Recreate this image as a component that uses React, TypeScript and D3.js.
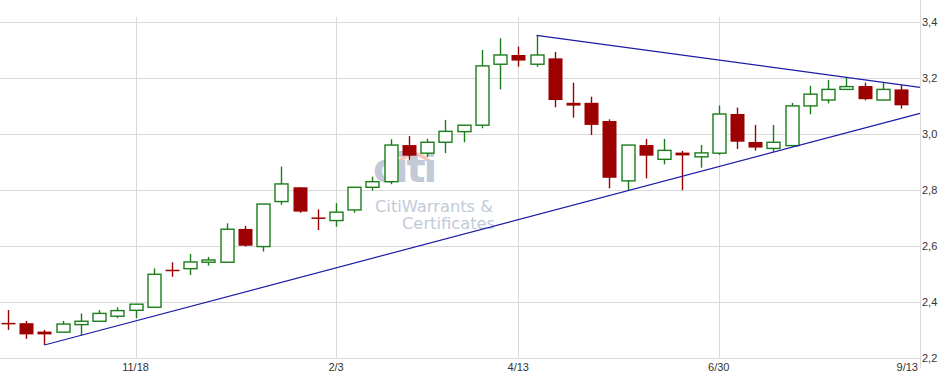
import React from "react";
import * as d3 from "d3";

const opens = [2.322,2.323,2.293,2.291,2.318,2.330,2.348,2.369,2.380,2.512,2.518,2.541,2.541,2.660,2.597,2.758,2.809,2.699,2.690,2.728,2.809,2.829,2.960,2.931,2.970,3.008,3.031,3.249,3.282,3.249,3.270,3.111,3.111,3.046,2.832,2.960,2.909,2.933,2.918,2.931,3.071,2.971,2.948,2.958,3.100,3.121,3.159,3.171,3.121,3.159];
const highs = [2.370,2.331,2.299,2.331,2.358,2.370,2.380,2.392,2.519,2.541,2.571,2.560,2.680,2.671,2.750,2.883,2.809,2.730,2.752,2.810,2.847,2.981,2.992,2.982,3.050,3.032,3.300,3.342,3.312,3.352,3.293,3.183,3.133,3.052,2.960,2.982,2.982,2.939,2.960,3.101,3.094,3.032,3.032,3.111,3.172,3.193,3.202,3.183,3.185,3.175];
const lows = [2.299,2.267,2.245,2.290,2.280,2.330,2.341,2.341,2.380,2.489,2.495,2.529,2.541,2.597,2.579,2.746,2.718,2.656,2.668,2.718,2.797,2.820,2.907,2.918,2.931,2.970,3.020,3.159,3.240,3.240,3.095,3.058,2.996,2.805,2.796,2.841,2.891,2.799,2.879,2.925,2.946,2.940,2.936,2.955,3.070,3.109,3.159,3.120,3.121,3.090];
const closes = [2.321,2.283,2.283,2.320,2.330,2.358,2.368,2.391,2.498,2.511,2.542,2.549,2.659,2.600,2.749,2.821,2.722,2.698,2.720,2.809,2.829,2.960,2.922,2.970,3.009,3.031,3.243,3.282,3.262,3.282,3.121,3.101,3.032,2.843,2.960,2.922,2.941,2.923,2.932,3.071,2.972,2.951,2.970,3.100,3.142,3.159,3.169,3.124,3.159,3.102];

const yTicks = [2.2, 2.4, 2.6, 2.8, 3.0, 3.2, 3.4];
const xTickIdx = [7, 18, 28, 39];
const xTickLabels = ["11/18", "2/3", "4/13", "6/30"];
const lastLabel = "9/13";

// trend line anchors: [candle index, value]
const lowerTrend: [number, number][] = [[2, 2.245], [43, 2.952]];
const upperTrend: [number, number][] = [[29, 3.352], [46, 3.202]];

const W = 942, H = 378;
const plotRight = 920;
const RED = "#9c0000";
const GREEN = "#1a7d1a";
const BLUE = "#1c1ca6";
const GRID = "#d9d9d9";
const WM = "#c2cad8";

export default function App() {
  const x = d3.scaleLinear().domain([0, 49]).range([8, 901]);
  const y = d3.scaleLinear().domain([2.2, 3.4]).range([357.6, 22]);
  const bw = 13;
  const fmt = (v: number) => d3.format(".1f")(v).replace(".", ",");

  const trend = (a: [number, number][]) => {
    const [p0, p1] = a;
    const slope = (p1[1] - p0[1]) / (p1[0] - p0[0]);
    const iEnd = x.invert(plotRight);
    const vEnd = p0[1] + slope * (iEnd - p0[0]);
    return d3.line<[number, number]>().x(d => x(d[0])).y(d => y(d[1]))([[p0[0], p0[1]], [iEnd, vEnd]]) || "";
  };

  return (
    <svg width={W} height={H} style={{ position: "absolute", left: 0, top: 0, background: "#fff" }}
      fontFamily="Liberation Sans, Arial, sans-serif">
      {/* grid */}
      {yTicks.map(t => (
        <line key={"gy" + t} x1={0} x2={plotRight} y1={Math.round(y(t)) + 0.5} y2={Math.round(y(t)) + 0.5} stroke={GRID} />
      ))}
      {xTickIdx.map(i => (
        <line key={"gx" + i} x1={Math.round(x(i)) + 0.5} x2={Math.round(x(i)) + 0.5} y1={17} y2={358} stroke={GRID} />
      ))}
      <line x1={plotRight + 0.5} x2={plotRight + 0.5} y1={0} y2={368} stroke={GRID} />

      {/* watermark */}
      <g>
        <path d="M400,161 Q413,147 429,161" fill="none" stroke="#f5c4bb" strokeWidth={4} />
        <text x={373} y={182} fontFamily="DejaVu Sans, sans-serif" fontWeight="bold" fontSize={40} fill={WM} letterSpacing={-2}>citi</text>
        <text x={375} y={212} fontFamily="DejaVu Sans, sans-serif" fontSize={16.3} fill={WM}>CitiWarrants &amp;</text>
        <text x={402} y={229} fontFamily="DejaVu Sans, sans-serif" fontSize={16.3} fill={WM}>Certificates</text>
      </g>

      {/* candles */}
      {opens.map((o, i) => {
        const c = closes[i];
        const up = c > o;
        const col = up ? GREEN : RED;
        const cx = Math.round(x(i)) + 0.5;
        const yTop = y(Math.max(o, c));
        const yBot = y(Math.min(o, c));
        const h = Math.max(yBot - yTop, 0);
        return (
          <g key={i}>
            <line x1={cx} x2={cx} y1={y(highs[i])} y2={y(lows[i])} stroke={col} strokeWidth={1.4} />
            {h < 1.5 ? (
              <line x1={cx - bw / 2 - 0.5} x2={cx + bw / 2 + 0.5} y1={(yTop + yBot) / 2} y2={(yTop + yBot) / 2} stroke={col} strokeWidth={1.5} />
            ) : up ? (
              <rect x={cx - bw / 2} y={yTop} width={bw} height={h} fill="#fff" stroke={col} strokeWidth={1.4} />
            ) : (
              <rect x={cx - bw / 2 - 0.5} y={yTop} width={bw + 1} height={h} fill={col} />
            )}
          </g>
        );
      })}

      {/* trend lines */}
      <path d={trend(lowerTrend)} stroke={BLUE} strokeWidth={1.2} fill="none" />
      <path d={trend(upperTrend)} stroke={BLUE} strokeWidth={1.2} fill="none" />

      {/* axis labels */}
      {yTicks.map(t => (
        <text key={"ly" + t} x={922} y={y(t) + 4} fontSize={11} fill="#333">{fmt(t)}</text>
      ))}
      {xTickIdx.map((i, k) => (
        <text key={"lx" + i} x={x(i)} y={371} fontSize={11} fill="#333" textAnchor="middle">{xTickLabels[k]}</text>
      ))}
      <text x={918} y={371} fontSize={11} fill="#333" textAnchor="end">{lastLabel}</text>
    </svg>
  );
}
